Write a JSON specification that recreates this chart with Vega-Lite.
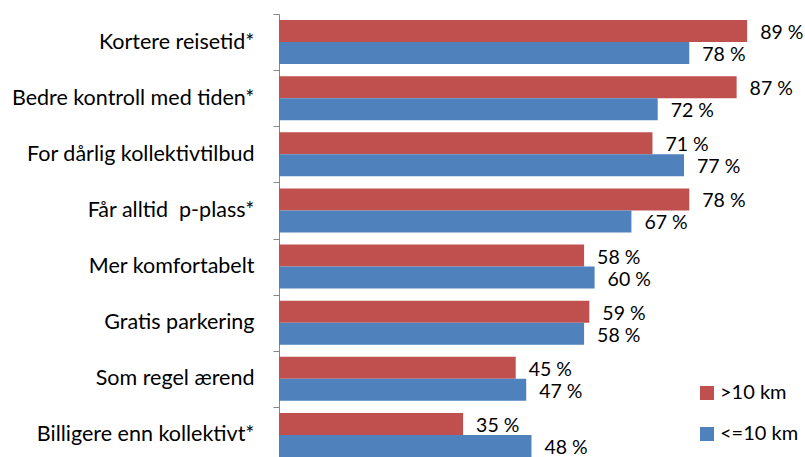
{
  "$schema": "https://vega.github.io/schema/vega-lite/v6.json",
  "width": 526,
  "height": 443,
  "autosize": {"type": "none"},
  "padding": {"left": 279, "top": 14, "right": 0, "bottom": 0},
  "background": "white",
  "config": {"view": {"stroke": null}, "font": "Lato"},
  "data": {
    "values": [
      {"cat": "Kortere reisetid*", "group": ">10 km", "value": 89},
      {"cat": "Kortere reisetid*", "group": "<=10 km", "value": 78},
      {"cat": "Bedre kontroll med tiden*", "group": ">10 km", "value": 87},
      {"cat": "Bedre kontroll med tiden*", "group": "<=10 km", "value": 72},
      {"cat": "For dårlig kollektivtilbud", "group": ">10 km", "value": 71},
      {"cat": "For dårlig kollektivtilbud", "group": "<=10 km", "value": 77},
      {"cat": "Får alltid \u00a0p-plass*", "group": ">10 km", "value": 78},
      {"cat": "Får alltid \u00a0p-plass*", "group": "<=10 km", "value": 67},
      {"cat": "Mer komfortabelt", "group": ">10 km", "value": 58},
      {"cat": "Mer komfortabelt", "group": "<=10 km", "value": 60},
      {"cat": "Gratis parkering", "group": ">10 km", "value": 59},
      {"cat": "Gratis parkering", "group": "<=10 km", "value": 58},
      {"cat": "Som regel ærend", "group": ">10 km", "value": 45},
      {"cat": "Som regel ærend", "group": "<=10 km", "value": 47},
      {"cat": "Billigere enn kollektivt*", "group": ">10 km", "value": 35},
      {"cat": "Billigere enn kollektivt*", "group": "<=10 km", "value": 48}
    ]
  },
  "transform": [{"calculate": "datum.value + ' %'", "as": "label"}],
  "encoding": {
    "y": {
      "field": "cat",
      "type": "nominal",
      "sort": null,
      "scale": {"paddingInner": 0, "paddingOuter": 0, "range": [0, 449]},
      "axis": {
        "title": null,
        "tickBand": "extent",
        "domainColor": "#868686",
        "tickColor": "#868686",
        "tickSize": 6,
        "labelFontSize": 21.5,
        "labelColor": "#000000",
        "labelPadding": 19,
        "labelLimit": 400,
        "labelFont": "Lato"
      }
    },
    "yOffset": {
      "field": "group",
      "type": "nominal",
      "sort": [">10 km", "<=10 km"],
      "scale": {"paddingInner": 0, "paddingOuter": 0.275}
    },
    "x": {
      "field": "value",
      "type": "quantitative",
      "scale": {"domain": [0, 100], "nice": false},
      "axis": null
    }
  },
  "layer": [
    {
      "mark": {"type": "bar"},
      "encoding": {
        "color": {
          "field": "group",
          "type": "nominal",
          "sort": [">10 km", "<=10 km"],
          "scale": {"domain": [">10 km", "<=10 km"], "range": ["#C0504D", "#4F81BD"]},
          "legend": {
            "title": null,
            "orient": "none",
            "legendX": 418,
            "legendY": 369,
            "padding": 0,
            "symbolType": "square",
            "symbolSize": 196,
            "symbolStrokeWidth": 0,
            "labelFontSize": 20,
            "labelColor": "#000000",
            "labelOffset": 3,
            "rowPadding": 21
          }
        }
      }
    },
    {
      "mark": {"type": "text", "align": "left", "baseline": "middle", "dx": 13, "dy": 2, "fontSize": 19.5, "color": "#000000"},
      "encoding": {"text": {"field": "label"}}
    }
  ]
}
